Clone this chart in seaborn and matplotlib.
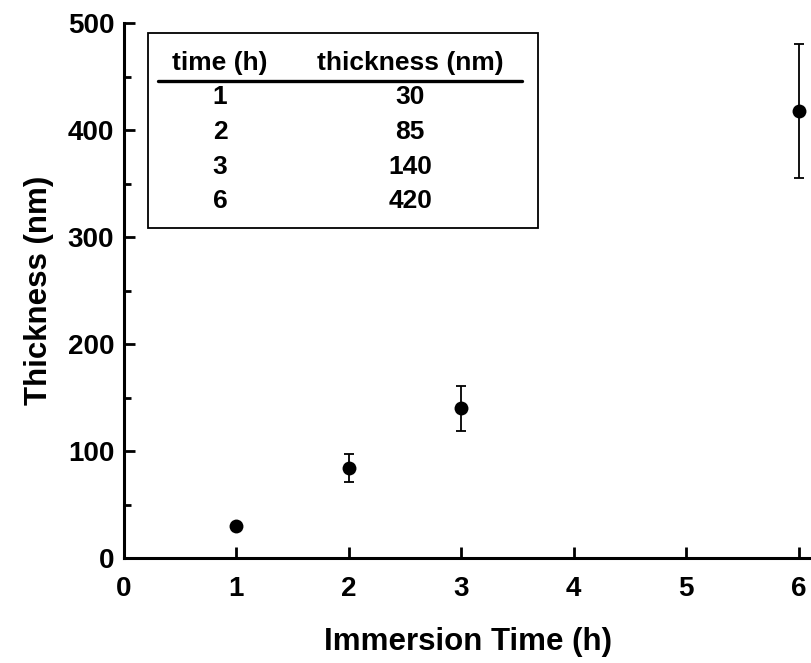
import matplotlib
matplotlib.use("Agg")
import matplotlib.pyplot as plt
import seaborn as sns
import pandas as pd
from matplotlib.patches import Rectangle
from matplotlib.ticker import MultipleLocator

# Data
time_h = [1, 2, 3, 6]
thickness_nm = [30, 84, 140, 418]
thickness_err = [0, 13, 21, 63]
table_time = ["1", "2", "3", "6"]
table_thick = ["30", "85", "140", "420"]
x_ticks = [0, 1, 2, 3, 4, 5, 6]
y_ticks = [0, 100, 200, 300, 400, 500]

sns.set_style("ticks")
plt.rcParams['font.family'] = ['Liberation Sans', 'DejaVu Sans']
plt.rcParams['font.weight'] = 'bold'
for k in ['text.color', 'axes.labelcolor', 'xtick.color', 'ytick.color', 'axes.edgecolor']:
    plt.rcParams[k] = 'black'

df = pd.DataFrame({"time": time_h, "thickness": thickness_nm, "err": thickness_err})

fig = plt.figure(figsize=(8.12, 6.63), dpi=100)
ax = fig.add_axes([0.1527, 0.1584, 0.8473, 0.8066])

ax.errorbar(df["time"], df["thickness"], yerr=df["err"], fmt="none",
            ecolor="black", elinewidth=1.3, capsize=3.5, capthick=1.3, clip_on=False, zorder=2)
sns.scatterplot(data=df, x="time", y="thickness", ax=ax, color="black", s=100,
                edgecolor="black", linewidth=0, clip_on=False, zorder=3, legend=False)

ax.set_xlim(0, 6.12)
ax.set_ylim(0, 500)
ax.set_xticks(x_ticks)
ax.set_yticks(y_ticks)
ax.yaxis.set_minor_locator(MultipleLocator(50))
ax.tick_params(axis='both', which='major', direction='in', length=8, width=2, labelsize=20)
ax.tick_params(axis='x', which='major', pad=13)
ax.tick_params(axis='y', which='major', pad=7)
ax.tick_params(axis='y', which='minor', direction='in', length=5, width=2)
for lab in ax.get_xticklabels() + ax.get_yticklabels():
    lab.set_fontweight('bold')

for s in ["top", "right"]:
    ax.spines[s].set_visible(False)
for s in ["left", "bottom"]:
    ax.spines[s].set_linewidth(2.2)

ax.set_xlabel("Immersion Time (h)", fontsize=22.5, fontweight='bold', labelpad=18)
ax.set_ylabel("Thickness (nm)", fontsize=22.5, fontweight='bold', labelpad=10)

# Inset table
ax.add_patch(Rectangle((0.035, 0.617), 0.567, 0.364, transform=ax.transAxes,
                       fill=True, facecolor="white", edgecolor="black", linewidth=1.3, zorder=4))
ax.plot([0.049, 0.578], [0.892, 0.892], transform=ax.transAxes, color="black", lw=2.4, zorder=5)
ax.text(0.1395, 0.925, "time (h)", transform=ax.transAxes, ha="center", va="center",
        fontsize=19, fontweight='bold', zorder=5)
ax.text(0.416, 0.925, "thickness (nm)", transform=ax.transAxes, ha="center", va="center",
        fontsize=19, fontweight='bold', zorder=5)
row_y = [0.862, 0.797, 0.732, 0.667]
for ty, a, b in zip(row_y, table_time, table_thick):
    ax.text(0.1395, ty, a, transform=ax.transAxes, ha="center", va="center",
            fontsize=19, fontweight='bold', zorder=5)
    ax.text(0.416, ty, b, transform=ax.transAxes, ha="center", va="center",
            fontsize=19, fontweight='bold', zorder=5)

fig.savefig("out.png", dpi=100)
